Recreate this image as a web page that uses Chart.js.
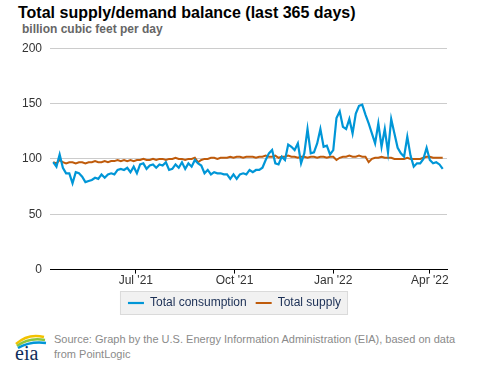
<!DOCTYPE html>
<html>
<head>
<meta charset="utf-8">
<script src="https://cdn.jsdelivr.net/npm/chart.js@4.4.1/dist/chart.umd.min.js"></script>
<style>
  html, body { margin: 0; padding: 0; background: #fff; }
  body { width: 477px; height: 367px; position: relative; overflow: hidden; font-family: "Liberation Sans", Arial, sans-serif; }
  #title { position: absolute; left: 18px; top: 4px; font-size: 16px; font-weight: bold; color: #000; white-space: nowrap; }
  #subtitle { position: absolute; left: 22px; top: 22px; font-size: 12px; font-weight: bold; color: #666; white-space: nowrap; }
  #wrap { position: absolute; left: 0; top: 33px; width: 477px; height: 292px; }
  #source { position: absolute; left: 54px; top: 332px; font-size: 11px; line-height: 15px; color: #8a8a8a; }
  #logo { position: absolute; left: 12px; top: 331px; }
</style>
</head>
<body>
<div id="title">Total supply/demand balance (last 365 days)</div>
<div id="subtitle">billion cubic feet per day</div>
<div id="wrap"><canvas id="chart"></canvas></div>
<svg id="logo" width="36" height="32" viewBox="0 0 36 32">
  <path d="M4 13 Q16 2 32 6" stroke="#f2c200" stroke-width="2.5" fill="none"/>
  <path d="M5 15 Q17 6 33 9" stroke="#8cc63f" stroke-width="2.5" fill="none"/>
  <path d="M6 17 Q18 10 34 12" stroke="#0096d7" stroke-width="2.5" fill="none"/>
  <text x="3" y="29" font-family="Liberation Serif, DejaVu Serif, serif" font-size="20" fill="#0f2d5a">eia</text>
</svg>
<div id="source">Source: Graph by the U.S. Energy Information Administration (EIA), based on data<br>from PointLogic</div>
<script>
// every 3 days starting 15 Apr 2021
const startDate = '2021-04-15';
const stepDays = 3;

const consumption = [
  97, 93, 104, 92, 87, 87, 78, 88, 87, 84,
  79, 80, 81, 83, 82, 86, 83, 86, 87, 86,
  90, 91, 90, 92, 88, 93, 87, 95, 96, 91,
  94, 95, 92, 95, 94, 97, 90, 91, 95, 92,
  97, 91, 96, 93, 99, 96, 94, 87, 90, 86,
  88, 87, 87, 86, 86, 82, 86, 82, 86, 87,
  86, 90, 88, 90, 90, 92, 99, 105, 108, 96,
  95, 102, 99, 113, 111, 108, 114, 96, 105, 127,
  105, 106, 114, 127, 111, 112, 104, 108, 137, 143,
  129, 127, 136, 123, 141, 148, 149, 140, 132, 123,
  114, 132, 111, 127, 106, 136, 123, 110, 105, 102,
  120, 103, 93, 96, 96, 100, 110, 99, 96, 97,
  95, 91
];

const supply = [
  97, 96, 99, 97, 96, 97,
  97, 96, 97, 97, 96, 97, 97, 98, 97, 97, 98, 97, 98, 98, 99,
  98, 99, 98, 99, 98, 99, 99, 100, 99, 99,
  100, 99, 100, 100, 99, 100, 100, 101, 100, 100, 99, 100, 100, 101,
  97,
  99, 100, 100, 101, 101, 100, 101, 101, 101, 102, 101, 102, 102, 101, 102,
  102, 102, 101, 102, 102, 103, 102, 102, 103, 101, 102, 102, 103, 102, 102, 101, 102,
  102, 101, 102, 102, 101, 102, 102, 101, 102, 102, 99,
  101, 102, 102, 103, 102, 102, 103, 102, 102,
  97,
  100, 101, 101, 102, 101, 101, 101, 100, 100,
  100, 100, 101, 100, 100, 100, 100, 101, 102, 102, 101, 101, 101, 101
];

const tickDates = ['2021-07-01', '2021-10-01', '2022-01-01', '2022-04-01'];
const tickLabels = ["Jul '21", "Oct '21", "Jan '22", "Apr '22"];
const axisStart = '2021-04-12';
const axisEnd = '2022-04-17';

const DAY = 86400000;
const dayOf = s => (Date.parse(s) - Date.parse('2021-04-01')) / DAY;
const firstDay = dayOf(startDate);
const toPoints = arr => arr.map((v, i) => ({ x: firstDay + i * stepDays, y: v }));

// light grey box behind the legend items, legend nudged to page centre
const legendBox = {
  id: 'legendBox',
  afterLayout(chart) {
    if (chart.legend) { chart.legend.left += 11; chart.legend.right += 11; }
  },
  beforeDraw(chart) {
    const boxes = chart.legend && chart.legend.legendHitBoxes;
    if (!boxes || !boxes.length) return;
    let l = Infinity, r = -Infinity, t = Infinity, b = -Infinity;
    boxes.forEach(h => {
      l = Math.min(l, h.left); r = Math.max(r, h.left + h.width);
      t = Math.min(t, h.top); b = Math.max(b, h.top + h.height);
    });
    const cy = (t + b) / 2;
    const ctx = chart.ctx;
    ctx.save();
    ctx.fillStyle = '#f1f1f1';
    ctx.strokeStyle = '#dadada';
    ctx.lineWidth = 1;
    ctx.fillRect(l - 8, cy - 12, r - l + 15, 24);
    ctx.strokeRect(l - 7.5, cy - 11.5, r - l + 14, 23);
    ctx.restore();
  }
};

Chart.defaults.font.family = '"Liberation Sans", Arial, sans-serif';

new Chart(document.getElementById('chart'), {
  type: 'line',
  data: {
    datasets: [
      {
        label: 'Total consumption',
        data: toPoints(consumption),
        borderColor: '#0096d7',
        backgroundColor: '#0096d7',
        borderWidth: 2.2,
        pointRadius: 0,
        tension: 0
      },
      {
        label: 'Total supply',
        data: toPoints(supply),
        borderColor: '#bf5b0b',
        backgroundColor: '#bf5b0b',
        borderWidth: 2,
        pointRadius: 0,
        tension: 0
      }
    ]
  },
  options: {
    responsive: true,
    maintainAspectRatio: false,
    animation: false,
    layout: { padding: { left: 0, right: 30, top: 6, bottom: 6 } },
    plugins: {
      legend: {
        position: 'bottom',
        labels: {
          usePointStyle: true,
          pointStyle: 'line',
          pointStyleWidth: 16,
          color: '#1b2f55',
          font: { size: 12 },
          padding: 9
        }
      },
      tooltip: { enabled: false }
    },
    scales: {
      x: {
        type: 'linear',
        min: dayOf(axisStart),
        max: dayOf(axisEnd),
        afterBuildTicks: axis => { axis.ticks = tickDates.map(d => ({ value: dayOf(d) })); },
        ticks: {
          autoSkip: false,
          maxRotation: 0,
          color: '#333',
          font: { size: 12 },
          padding: 0,
          callback: (v, i) => tickLabels[i]
        },
        grid: { drawOnChartArea: false, drawTicks: true, tickLength: 4, color: '#000' },
        border: { color: '#000', width: 1 }
      },
      y: {
        min: 0,
        max: 200,
        afterFit: scale => { scale.width = 50; },
        ticks: { stepSize: 50, color: '#333', font: { size: 12 }, padding: 8 },
        grid: { color: '#cccccc', drawTicks: false },
        border: { display: false }
      }
    }
  },
  plugins: [legendBox]
});
</script>
</body>
</html>
